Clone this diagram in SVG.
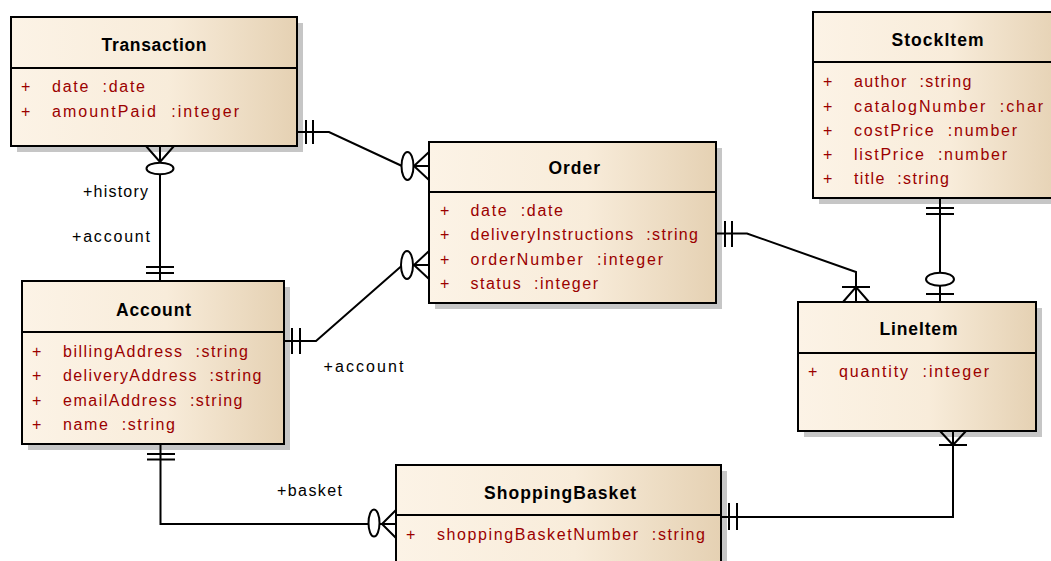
<svg xmlns="http://www.w3.org/2000/svg" width="1051" height="561" viewBox="0 0 1051 561">
  <defs>
    <linearGradient id="fill" x1="0" y1="0" x2="1" y2="0">
      <stop offset="0" stop-color="#FCF3E6"/>
      <stop offset="0.55" stop-color="#F8ECDA"/>
      <stop offset="1" stop-color="#E5D1B3"/>
    </linearGradient>
  </defs>
  <style>
    .sh { fill: #C6C6C6; }
    .box { fill: url(#fill); stroke: #000; stroke-width: 2; }
    .div { stroke: #000; stroke-width: 2; }
    .t { font-family: "Liberation Sans", Arial, sans-serif; font-weight: bold; font-size: 17.5px; fill: #000; }
    .a { font-family: "Liberation Sans", Arial, sans-serif; font-size: 16px; fill: #9B0000; white-space: pre; }
    .l { font-family: "Liberation Sans", Arial, sans-serif; font-size: 16px; fill: #000; }
    .c { stroke: #000; stroke-width: 2; fill: none; }
    .e { fill: #fff; stroke: #000; stroke-width: 2; }
  </style>

  <rect width="1051" height="561" fill="#fff"/>

  <!-- entities -->
  <g id="transaction">
    <rect class="sh" x="17" y="23" width="286" height="129"/>
    <rect class="box" x="11" y="17" width="286" height="129"/>
    <line class="div" x1="11" y1="68" x2="297" y2="68"/>
    <text class="t" x="101.5" y="51" textLength="105" lengthAdjust="spacing">Transaction</text>
    <text class="a" x="21" y="92">+</text>
    <text class="a" x="52" y="92" textLength="93" lengthAdjust="spacing">date  :date</text>
    <text class="a" x="21" y="116.5">+</text>
    <text class="a" x="52" y="116.5" textLength="187" lengthAdjust="spacing">amountPaid  :integer</text>
  </g>

  <g id="order">
    <rect class="sh" x="435" y="148" width="287" height="161"/>
    <rect class="box" x="429" y="142" width="287" height="161"/>
    <line class="div" x1="429" y1="192" x2="716" y2="192"/>
    <text class="t" x="548.5" y="174" textLength="51.5" lengthAdjust="spacing">Order</text>
    <text class="a" x="440" y="215.5">+</text>
    <text class="a" x="470.5" y="215.5" textLength="92.5" lengthAdjust="spacing">date  :date</text>
    <text class="a" x="440" y="240">+</text>
    <text class="a" x="470.5" y="240" textLength="227.5" lengthAdjust="spacing">deliveryInstructions  :string</text>
    <text class="a" x="440" y="264.5">+</text>
    <text class="a" x="470.5" y="264.5" textLength="192.5" lengthAdjust="spacing">orderNumber  :integer</text>
    <text class="a" x="440" y="289">+</text>
    <text class="a" x="470.5" y="289" textLength="127.5" lengthAdjust="spacing">status  :integer</text>
  </g>

  <g id="stockitem">
    <rect class="sh" x="819" y="18" width="250" height="186"/>
    <rect class="box" x="813" y="12" width="250" height="186"/>
    <line class="div" x1="813" y1="62" x2="1063" y2="62"/>
    <text class="t" x="891.5" y="46" textLength="92" lengthAdjust="spacing">StockItem</text>
    <text class="a" x="823" y="87">+</text>
    <text class="a" x="854" y="87" textLength="117.5" lengthAdjust="spacing">author  :string</text>
    <text class="a" x="823" y="111.5">+</text>
    <text class="a" x="854" y="111.5" textLength="189" lengthAdjust="spacing">catalogNumber  :char</text>
    <text class="a" x="823" y="135.5">+</text>
    <text class="a" x="854" y="135.5" textLength="163" lengthAdjust="spacing">costPrice  :number</text>
    <text class="a" x="823" y="160">+</text>
    <text class="a" x="854" y="160" textLength="153" lengthAdjust="spacing">listPrice  :number</text>
    <text class="a" x="823" y="184">+</text>
    <text class="a" x="854" y="184" textLength="95" lengthAdjust="spacing">title  :string</text>
  </g>

  <g id="account">
    <rect class="sh" x="28" y="287" width="262" height="163"/>
    <rect class="box" x="22" y="281" width="262" height="163"/>
    <line class="div" x1="22" y1="332" x2="284" y2="332"/>
    <text class="t" x="116" y="316" textLength="75" lengthAdjust="spacing">Account</text>
    <text class="a" x="32" y="356.5">+</text>
    <text class="a" x="63" y="356.5" textLength="185" lengthAdjust="spacing">billingAddress  :string</text>
    <text class="a" x="32" y="381">+</text>
    <text class="a" x="63" y="381" textLength="198.5" lengthAdjust="spacing">deliveryAddress  :string</text>
    <text class="a" x="32" y="405.5">+</text>
    <text class="a" x="63" y="405.5" textLength="179.5" lengthAdjust="spacing">emailAddress  :string</text>
    <text class="a" x="32" y="429.5">+</text>
    <text class="a" x="63" y="429.5" textLength="112" lengthAdjust="spacing">name  :string</text>
  </g>

  <g id="lineitem">
    <rect class="sh" x="804" y="308" width="238" height="129"/>
    <rect class="box" x="798" y="302" width="238" height="129"/>
    <line class="div" x1="798" y1="353" x2="1036" y2="353"/>
    <text class="t" x="879.5" y="335" textLength="78" lengthAdjust="spacing">LineItem</text>
    <text class="a" x="808" y="377">+</text>
    <text class="a" x="839" y="377" textLength="150" lengthAdjust="spacing">quantity  :integer</text>
  </g>

  <g id="shoppingbasket">
    <rect class="sh" x="402" y="471" width="325" height="110"/>
    <rect class="box" x="396" y="465" width="325" height="110"/>
    <line class="div" x1="396" y1="515" x2="721" y2="515"/>
    <text class="t" x="484" y="499" textLength="152" lengthAdjust="spacing">ShoppingBasket</text>
    <text class="a" x="406" y="539.5">+</text>
    <text class="a" x="437" y="539.5" textLength="268" lengthAdjust="spacing">shoppingBasketNumber  :string</text>
  </g>

  <!-- relationships -->
  <g id="connectors">
    <!-- Transaction || ... 0< Order -->
    <path class="c" d="M297,132 H329 L402,166"/>
    <path class="c" d="M306,120 V144 M313,120 V144"/>
    <ellipse class="e" cx="407.5" cy="166" rx="6" ry="14"/>
    <path class="c" d="M413.5,166 H429 M429,152 L414,166 L429,180"/>

    <!-- Transaction >0 ... || Account -->
    <path class="c" d="M160,146 V162 M146,146 L160,162 L174,146"/>
    <ellipse class="e" cx="160" cy="168.5" rx="13.5" ry="5.8"/>
    <path class="c" d="M160,174.3 V281"/>
    <path class="c" d="M146,267 H174 M146,273 H174"/>

    <!-- Account || ... 0< Order -->
    <path class="c" d="M284,341 H316 L401.5,266"/>
    <path class="c" d="M292,328 V354 M300,328 V354"/>
    <ellipse class="e" cx="407" cy="265" rx="6" ry="14"/>
    <path class="c" d="M413,265 H429 M429,251 L414,265 L429,279"/>

    <!-- Order || ... |< LineItem -->
    <path class="c" d="M716,233.5 H747 L856,272 V302"/>
    <path class="c" d="M725,221 V247 M732,221 V247"/>
    <path class="c" d="M843,302 L856,287 L869,302 M842,287 H870"/>

    <!-- StockItem || ... 0| LineItem -->
    <path class="c" d="M940,198 V273 M940,285.8 V302"/>
    <path class="c" d="M926,208 H954 M926,214 H954"/>
    <ellipse class="e" cx="940" cy="279.3" rx="14" ry="6.5"/>
    <path class="c" d="M926,294 H954"/>

    <!-- Account || ... 0< ShoppingBasket -->
    <path class="c" d="M160.5,444 V524 H368.5"/>
    <path class="c" d="M147,454 H175 M147,459.5 H175"/>
    <ellipse class="e" cx="374" cy="523" rx="5.5" ry="13.5"/>
    <path class="c" d="M379.5,524 H396 M396,510 L382,524 L396,538"/>

    <!-- ShoppingBasket || ... |< LineItem -->
    <path class="c" d="M721,517 H953 V431"/>
    <path class="c" d="M729,503 V530 M737,503 V530"/>
    <path class="c" d="M940,431 L953,445 L966,431 M939,445 H967"/>
  </g>

  <!-- role names -->
  <g id="roles">
    <text class="l" x="83" y="197" textLength="65" lengthAdjust="spacing">+history</text>
    <text class="l" x="72" y="241.5" textLength="78" lengthAdjust="spacing">+account</text>
    <text class="l" x="323.5" y="372" textLength="80" lengthAdjust="spacing">+account</text>
    <text class="l" x="277" y="495.5" textLength="65" lengthAdjust="spacing">+basket</text>
  </g>
</svg>
